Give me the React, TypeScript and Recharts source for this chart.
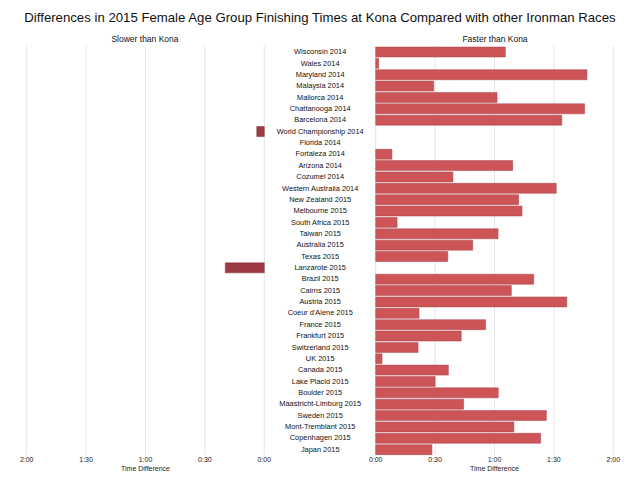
import React from "react";
import { BarChart, Bar, XAxis, YAxis, CartesianGrid } from "recharts";

const races = [
  "Wisconsin 2014", "Wales 2014", "Maryland 2014", "Malaysia 2014", "Mallorca 2014",
  "Chattanooga 2014", "Barcelona 2014", "World Championship 2014", "Florida 2014",
  "Fortaleza 2014", "Arizona 2014", "Cozumel 2014", "Western Australia 2014",
  "New Zealand 2015", "Melbourne 2015", "South Africa 2015", "Taiwan 2015",
  "Australia 2015", "Texas 2015", "Lanzarote 2015", "Brazil 2015", "Cairns 2015",
  "Austria 2015", "Coeur d'Alene 2015", "France 2015", "Frankfurt 2015",
  "Switzerland 2015", "UK 2015", "Canada 2015", "Lake Placid 2015", "Boulder 2015",
  "Maastricht-Limburg 2015", "Sweden 2015", "Mont-Tremblant 2015",
  "Copenhagen 2015", "Japan 2015",
];

// minutes faster than Kona
const fasterMinutes = [
  65.5, 1.5, 106.7, 29.3, 61.3, 105.5, 94, 0, 0, 8.2, 69.2, 39, 91.2, 72.2, 73.9,
  10.8, 61.8, 49, 36.4, 0, 79.8, 68.5, 96.5, 21.9, 55.5, 43.2, 21.4, 3.2, 36.7, 30,
  61.9, 44.4, 86.2, 69.8, 83.3, 28.4,
];

// minutes slower than Kona
const slowerMinutes = [
  0, 0, 0, 0, 0, 0, 0, 3.8, 0, 0, 0, 0, 0, 0, 0, 0, 0, 0, 0, 19.7, 0, 0, 0, 0, 0,
  0, 0, 0, 0, 0, 0, 0, 0, 0, 0, 0,
];

const timeTicks = [0, 30, 60, 90, 120];

const data = races.map((name, i) => ({
  name,
  faster: fasterMinutes[i] || null,
  slower: slowerMinutes[i] || null,
}));

const fmt = (m: number) => `${Math.floor(m / 60)}:${String(m % 60).padStart(2, "0")}`;

const FONT = "'Liberation Sans', Arial, sans-serif";
const TOP = 46;
const AXIS_H = 25;
const tickStyle = { fontSize: 7, fill: "#222", fontFamily: FONT };
const axisLabel = { value: "Time Difference", position: "insideBottom" as const, offset: 9, fontSize: 7, fill: "#222", fontFamily: FONT };

const RaceTick = ({ x, y, payload }: any) => (
  <text x={x - 55.5} y={y} textAnchor="middle" dominantBaseline="central" fontSize={7.4} fill="#111" fontFamily={FONT}>
    {payload.value}
  </text>
);

export default function App() {
  return (
    <div style={{ position: "absolute", left: 0, top: 0, width: 640, height: 480, background: "#fff", fontFamily: FONT }}>
      <div style={{ position: "absolute", top: 10, width: 640, textAlign: "center", fontSize: 13.2, color: "#111" }}>
        Differences in 2015 Female Age Group Finishing Times at Kona Compared with other Ironman Races
      </div>
      <div style={{ position: "absolute", top: 34, left: 26, width: 238, textAlign: "center", fontSize: 8.5, color: "#111" }}>
        Slower than Kona
      </div>
      <div style={{ position: "absolute", top: 34, left: 376, width: 238, textAlign: "center", fontSize: 8.5, color: "#111" }}>
        Faster than Kona
      </div>

      <div style={{ position: "absolute", left: 0, top: 0 }}>
        <BarChart width={640} height={480} data={data} layout="vertical"
          margin={{ top: TOP, right: 375.7, left: 26.7, bottom: 0 }} barCategoryGap={1}>
          <CartesianGrid horizontal={false} stroke="#e6e6e6" />
          <XAxis type="number" domain={[0, 120]} ticks={timeTicks} reversed tickFormatter={fmt}
            axisLine={false} tickLine={false} tickSize={0} tickMargin={2} height={AXIS_H}
            tick={tickStyle} label={axisLabel} />
          <YAxis type="category" dataKey="name" hide />
          <Bar dataKey="slower" fill="#9e3a41" stroke="#7e2c32" strokeWidth={0.5} barSize={10} isAnimationActive={false} />
        </BarChart>
      </div>

      <div style={{ position: "absolute", left: 0, top: 0 }}>
        <BarChart width={640} height={480} data={data} layout="vertical"
          margin={{ top: TOP, right: 26.7, left: 264.7, bottom: 0 }} barCategoryGap={1}>
          <CartesianGrid horizontal={false} stroke="#e6e6e6" />
          <XAxis type="number" domain={[0, 120]} ticks={timeTicks} tickFormatter={fmt}
            axisLine={false} tickLine={false} tickSize={0} tickMargin={2} height={AXIS_H}
            tick={tickStyle} label={axisLabel} />
          <YAxis type="category" dataKey="name" width={111} axisLine={false} tickLine={false}
            tickSize={0} tickMargin={0} interval={0} tick={<RaceTick />} />
          <Bar dataKey="faster" fill="#cd5558" stroke="#a8414a" strokeWidth={0.5} barSize={10} isAnimationActive={false} />
        </BarChart>
      </div>
    </div>
  );
}
